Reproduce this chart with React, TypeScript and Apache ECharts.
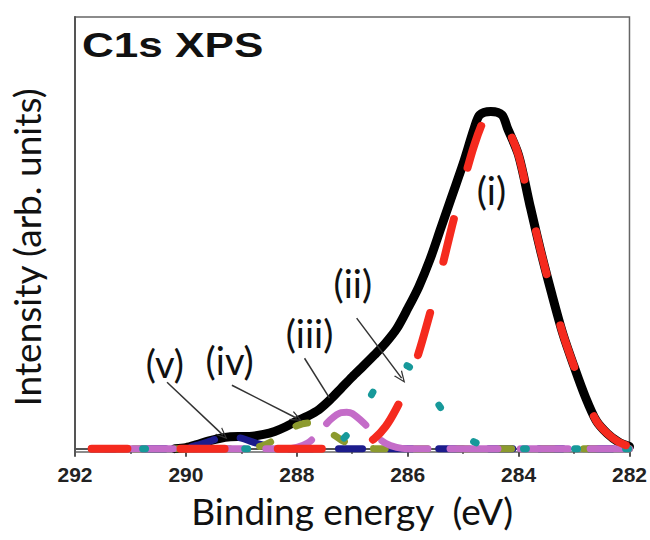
import React, { useEffect, useRef } from "react";
import * as echarts from "echarts";

// Envelope (measured spectrum, black)
const envE = [290.2, 290.0, 289.8, 289.6, 289.4, 289.2, 289.0, 288.8, 288.6, 288.4, 288.2, 288.0, 287.8, 287.6, 287.4, 287.2, 287.0, 286.8, 286.6, 286.4, 286.2, 286.0, 285.8, 285.6, 285.4, 285.2, 285.0, 284.8, 284.7, 284.5, 284.3, 284.2, 284.0, 283.8, 283.6, 283.4, 283.2, 283.0, 282.8, 282.6, 282.4, 282.2, 282.0];
const envI = [0, 0.3, 1.2, 2.2, 3.0, 3.5, 3.6, 3.7, 4.2, 5.1, 6.5, 8.2, 9.7, 11.6, 14.5, 17.9, 21.3, 24.5, 27.8, 31.3, 35.5, 41.5, 48, 56, 65.5, 75, 84.5, 95, 99, 100, 99, 95, 87, 72.5, 58.5, 45.8, 34, 24.4, 15.5, 8.3, 4.5, 2, 0.6];

// Component (i) red (listed from low to high binding energy)
const redE = [282.0, 282.2, 282.4, 282.6, 282.8, 283.0, 283.2, 283.4, 283.6, 283.8, 284.0, 284.2, 284.4, 284.5, 284.6, 284.8, 285.0, 285.2, 285.4, 285.6, 285.8, 286.0, 286.2, 286.4, 286.6, 286.8, 287.0, 287.2, 291.7];
const redI = [0.6, 2, 4.5, 8.3, 15.5, 24.4, 34, 45.8, 58.5, 72.5, 87, 95, 99.5, 100, 98.5, 90, 78.5, 66, 52.5, 40, 28.5, 19, 12, 6.5, 3, 1, 0.3, 0, 0];

// Component (ii) teal
const tealE = [291.7, 287.8, 287.6, 287.4, 287.2, 287.0, 286.8, 286.6, 286.4, 286.2, 286.0, 285.8, 285.6, 285.4, 285.2, 285.0, 284.8, 284.6, 284.4, 284.2, 282.0];
const tealI = [0, 0, 0.3, 0.8, 2.4, 6, 11.5, 17.5, 22.5, 25, 24.5, 21.5, 17, 12, 7.5, 4.2, 2, 0.8, 0.2, 0, 0];

// Component (iii) magenta
const magE = [291.7, 288.2, 288.0, 287.8, 287.6, 287.4, 287.2, 287.1, 287.0, 286.8, 286.6, 286.4, 286.2, 286.0, 282.0];
const magI = [0, 0, 0.4, 1.7, 4.7, 8.5, 10.7, 10.8, 10.4, 7.7, 4.2, 1.6, 0.4, 0, 0];

// Component (iv) olive
const oliE = [291.7, 289.0, 288.8, 288.6, 288.4, 288.2, 288.0, 287.8, 287.6, 287.4, 287.2, 287.0, 286.8, 286.6, 282.0];
const oliI = [0, 0, 0.2, 1, 2.6, 4.8, 6.8, 7.6, 6.8, 4.8, 2.6, 1, 0.3, 0, 0];

// Component (v) navy
const navE = [291.7, 290.2, 290.0, 289.8, 289.6, 289.4, 289.2, 289.0, 288.8, 288.6, 288.4, 288.2, 282.0];
const navI = [0, 0, 0.3, 1, 2, 3.1, 3.5, 3.1, 2, 1, 0.3, 0, 0];

// Annotation labels
const labelText = ["(i)", "(ii)", "(iii)", "(iv)", "(v)"];
const labelE = [284.49, 286.99, 287.77, 289.21, 290.38];
const labelI = [76.6, 49, 34.2, 26.2, 25.3];

// Arrows (from label to peak)
const arrowFromE = [286.92, 287.86, 289.17, 290.34];
const arrowFromI = [38.7, 26.8, 18.8, 19.7];
const arrowToE = [286.11, 287.41, 288.0, 289.33];
const arrowToI = [20.9, 15, 9, 4];
const arrowHead = [true, false, true, true];

const zip = (xs: number[], ys: number[]) => xs.map((x, i) => [x, ys[i]]);

const CAL = "Lato, 'Open Sans', sans-serif";
const ARIAL = "'Liberation Sans', Arial, sans-serif";
const CHEVRON = "path://M0,12 L6,0 L12,12 L10.4,12 L6,3.2 L1.6,12 Z";

export default function App() {
  const ref = useRef<HTMLDivElement>(null);
  useEffect(() => {
    if (!ref.current) return;
    const chart = echarts.init(ref.current, undefined, { renderer: "svg" });
    const comp = (name: string, xs: number[], ys: number[], color: string, dash: number[], width = 7, offset = 0) => ({
      name,
      type: "line",
      data: zip(xs, ys),
      showSymbol: false,
      smooth: 0.3,
      lineStyle: { color, width, type: dash, dashOffset: offset, cap: "round", join: "round" },
      silent: true,
    });
    chart.setOption({
      animation: false,
      backgroundColor: "#ffffff",
      grid: { left: 75, right: 20, top: 17, bottom: 88, show: true, borderColor: "#666", borderWidth: 1.5 },
      xAxis: {
        type: "value",
        min: 282,
        max: 292,
        interval: 2,
        inverse: true,
        axisLine: { show: true, lineStyle: { color: "#555", width: 2 } },
        axisTick: { show: true, length: 8, lineStyle: { color: "#555", width: 2 } },
        minorTick: { show: true, splitNumber: 2, length: 5, lineStyle: { color: "#555", width: 2 } },
        splitLine: { show: false },
        axisLabel: { fontFamily: ARIAL, fontWeight: "bold", fontSize: 21, color: "#222", margin: 12, showMinLabel: true, showMaxLabel: true },
        name: "Binding energy  (eV)",
        nameLocation: "middle",
        nameGap: 40,
        nameTextStyle: { fontFamily: CAL, fontSize: 37, color: "#111" },
      },
      yAxis: {
        type: "value",
        min: -1,
        max: 128,
        axisLine: { show: true, lineStyle: { color: "#555", width: 2 } },
        axisTick: { show: false },
        axisLabel: { show: false },
        splitLine: { show: false },
        name: "Intensity (arb. units)",
        nameLocation: "middle",
        nameGap: 30,
        nameTextStyle: { fontFamily: CAL, fontSize: 37, color: "#111", padding: [0, 26, 0, 0] },
      },
      graphic: [
        {
          type: "text",
          x: 82,
          y: 45,
          scaleX: 1.26,
          style: { text: "C1s XPS", font: `bold 35px ${ARIAL}`, fill: "#111", verticalAlign: "middle", textVerticalAlign: "middle" },
        },
      ],
      series: [
        {
          name: "envelope",
          type: "line",
          data: zip(envE, envI),
          showSymbol: false,
          smooth: 0.3,
          lineStyle: { color: "#000", width: 9, join: "round", cap: "round" },
          silent: true,
        },
        comp("(v)", navE, navI, "#1c1c8c", [24, 26]),
        comp("(iv)", oliE, oliI, "#8c9a2e", [12, 30]),
        comp("(iii)", magE, magI, "#c46cc8", [48, 22], 7, 36),
        comp("(ii)", tealE, tealI, "#17999a", [3, 48]),
        comp("(i)", redE, redI, "#f52a1e", [44, 53], 8, 93),
        {
          name: "labels",
          type: "scatter",
          symbolSize: 0,
          silent: true,
          itemStyle: { opacity: 1 },
          data: labelE.map((e, i) => [e, labelI[i], labelText[i]]),
          label: {
            show: true,
            position: "inside",
            formatter: (p: any) => p.data[2],
            fontFamily: CAL,
            fontSize: 38,
            color: "#111",
            opacity: 1,
            textBorderWidth: 0,
          },
          markLine: {
            silent: true,
            animation: false,
            symbol: ["none", CHEVRON],
            symbolSize: [10, 12],
            label: { show: false },
            lineStyle: { color: "#333", width: 1.5, type: "solid", opacity: 1 },
            data: arrowFromE.map((e, i) => [
              { coord: [e, arrowFromI[i]], symbol: "none" },
              { coord: [arrowToE[i], arrowToI[i]], symbol: arrowHead[i] ? CHEVRON : "none" },
            ]),
          },
        },
      ],
    });
    return () => chart.dispose();
  }, []);
  return <div ref={ref} style={{ position: "fixed", left: 0, top: 0, width: 650, height: 540, background: "#fff" }} />;
}
